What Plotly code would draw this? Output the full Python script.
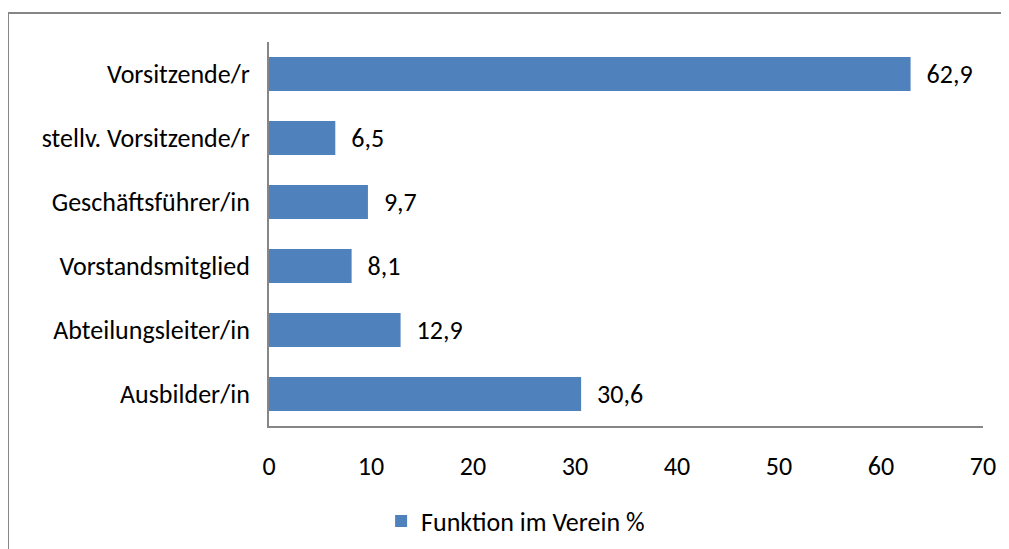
import plotly.graph_objects as go

categories = ["Vorsitzende/r", "stellv. Vorsitzende/r", "Geschäftsführer/in",
              "Vorstandsmitglied", "Abteilungsleiter/in", "Ausbilder/in"]
values = [62.9, 6.5, 9.7, 8.1, 12.9, 30.6]
series_name = "Funktion im Verein %"
x_ticks = [0, 10, 20, 30, 40, 50, 60, 70]

labels = ["\u2002" + f"{v:.1f}".replace(".", ",") for v in values]

font_family = "Carlito, Lato, 'Open Sans', sans-serif"
fs = 26

fig = go.Figure(go.Bar(
    y=categories, x=values, orientation="h",
    name=series_name, marker=dict(color="#4F81BD", line=dict(width=0)),
    text=labels, textposition="outside", cliponaxis=False,
    textfont=dict(color="black", size=fs, family=font_family),
    showlegend=True,
))

fig.update_layout(
    width=1001, height=541,
    margin=dict(l=261, r=26, t=34, b=123, autoexpand=False),
    paper_bgcolor="white", plot_bgcolor="white",
    font=dict(family=font_family, size=fs, color="black"),
    bargap=0.47,
    xaxis=dict(range=[0, 70], tickvals=x_ticks, showgrid=False, zeroline=False,
               showline=True, linecolor="#868686", linewidth=2,
               ticks="", ticklabelstandoff=16, tickfont=dict(size=fs),
               automargin=False),
    yaxis=dict(autorange="reversed", showgrid=False, zeroline=False,
               showline=True, linecolor="#868686", linewidth=2,
               ticks="", ticklabelstandoff=12, tickfont=dict(size=fs),
               automargin=False),
    legend=dict(orientation="h", x=0.157, xanchor="left",
                yref="container", y=1 - (513 / 541), yanchor="middle",
                font=dict(size=fs), itemwidth=30),
    uniformtext=dict(minsize=10),
    shapes=[dict(type="rect", xref="paper", yref="paper",
                 x0=(8 - 269) / 714, x1=1.2, y0=-0.6, y1=1 + 29 / 384,
                 line=dict(color="#868686", width=2), fillcolor="rgba(0,0,0,0)",
                 layer="below")],
)

fig.write_html("out.html")
